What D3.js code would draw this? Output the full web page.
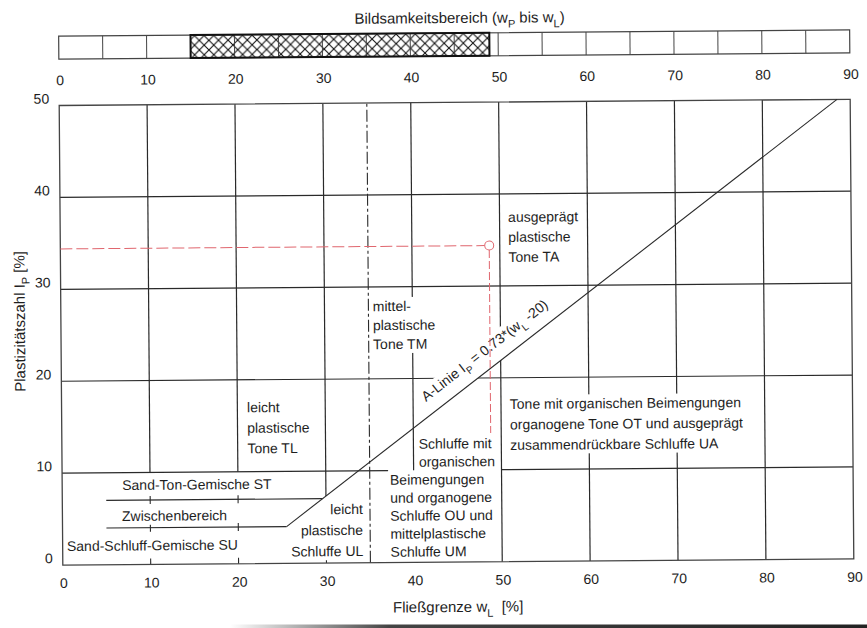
<!DOCTYPE html>
<html>
<head>
<meta charset="utf-8">
<title>Plastizitätsdiagramm</title>
<script src="https://cdn.jsdelivr.net/npm/d3@7/dist/d3.min.js"></script>
<style>
  body { margin: 0; background: #fff; }
  svg text { font-family: "Liberation Sans", Arial, Helvetica, sans-serif; fill: #1e1e1e; }
</style>
</head>
<body>
<svg id="chart" width="867" height="628"></svg>
<script>
// ---- values ----
const xTicks = [0, 10, 20, 30, 40, 50, 60, 70, 80, 90];
const yTicks = [0, 10, 20, 30, 40, 50];

// strip on top: 5 % cells, hatched = plasticity range w_P .. w_L
const stripEdges = [0, 5, 10, 15, 20, 25, 30, 35, 40, 45, 50, 55, 60, 65, 70, 75, 80, 85, 90];
const plasticRange = [15, 49];

// vertical grid lines (w_L) and the lowest I_P each one reaches
const vGridWL = [10, 20, 30, 40, 50, 60, 70, 80];
const vGridFromIP = [10, 10, 7.3, 10, 0, 0, 0, 0];
// horizontal grid lines (I_P), the 10 line is split
const hGridIP = [20, 30, 40];
const hGrid10 = [[0, 37.1], [50, 90]];

// zone boundaries
const stBoundary = [[5, 7], [29.6, 7]];
const suBoundary = [[5, 4], [25.5, 4]];
const aLine = [[25.5, 4], [88.5, 50]];
const tmBoundaryWL = 35;

// small ticks
const bottomTickWL = [10, 20, 30];
const crossTickWL = [10, 20];
const crossTickIP = [7, 4];

// example soil
const sampleWL = 48.8;
const sampleIP = 34.4;
const sampleDropIP = 14;

const zoneNames = [
  ["ausgeprägt", "plastische", "Tone TA"],
  ["mittel-", "plastische", "Tone TM"],
  ["leicht", "plastische", "Tone TL"],
  ["Tone mit organischen Beimengungen", "organogene Tone OT und ausgeprägt", "zusammendrückbare Schluffe UA"],
  ["Schluffe mit", "organischen"],
  ["Beimengungen", "und organogene", "Schluffe OU und", "mittelplastische", "Schluffe UM"],
  ["leicht", "plastische", "Schluffe UL"],
  ["Sand-Ton-Gemische ST"],
  ["Zwischenbereich"],
  ["Sand-Schluff-Gemische SU"]
];
// where each label sits: w_L, I_P of first line, anchor, line step (px)
const zoneLayout = [
  [50.97, 37.5, "start", 20],
  [35.5, 27.9, "start", 19],
  [21.1, 17.0, "start", 20.5],
  [51.0, 17.15, "start", 20.5],
  [40.6, 12.9, "start", 18],
  [37.3, 9.0, "start", 18],
  [34.2, 5.85, "end", 21],
  [6.83, 8.66, "start", 0],
  [6.78, 5.29, "start", 0],
  [0.49, 2.07, "start", 0]
];

const svg = d3.select("#chart");
const x = d3.scaleLinear().domain([0, 90]).range([61, 852]);
const y = d3.scaleLinear().domain([0, 50]).range([562, 102.4]);
const INK = "#2a2a2a";
const RED = "#e0666e";

const defs = svg.append("defs");
const hatch = defs.append("pattern")
    .attr("id", "hatch")
    .attr("patternUnits", "userSpaceOnUse")
    .attr("width", 9.6)
    .attr("height", 9.6);
hatch.append("rect").attr("width", 9.6).attr("height", 9.6).attr("fill", "#fff");
hatch.append("path")
    .attr("d", "M-1,-1L10.6,10.6M10.6,-1L-1,10.6")
    .attr("stroke", "#111")
    .attr("stroke-width", 1.1);

const fade = defs.append("linearGradient").attr("id", "fade").attr("x2", "100%");
fade.append("stop").attr("offset", "0%").attr("stop-color", "#fff");
fade.append("stop").attr("offset", "25%").attr("stop-color", "#444");
fade.append("stop").attr("offset", "100%").attr("stop-color", "#222");

// the scan is slightly crooked, so is the drawing
const root = svg.append("g").attr("transform", "rotate(-0.45, 455, 333)");

// text with sub-scripts: parts = [[string, isSub], ...]
function richText(t, parts, size) {
  parts.forEach(([s, sub], i) => {
    const prevSub = i > 0 && parts[i - 1][1];
    const ts = t.append("tspan").text(s);
    if (sub) ts.attr("dy", 5).style("font-size", Math.round(size * 0.72) + "px");
    else if (prevSub) ts.attr("dy", -5);
  });
}

// ---- top strip ----
const stripTop = 33, stripH = 23;
const strip = root.append("g");
strip.append("text")
    .attr("x", 462).attr("y", 23)
    .attr("text-anchor", "middle")
    .style("font-size", "15px")
    .call(t => richText(t, [["Bildsamkeitsbereich (w"], ["P", true], [" bis w"], ["L", true], [")"]], 15));

strip.append("rect")
    .attr("x", x(0)).attr("y", stripTop)
    .attr("width", x(90) - x(0)).attr("height", stripH)
    .attr("fill", "#fff");
strip.append("rect")
    .attr("x", x(plasticRange[0])).attr("y", stripTop)
    .attr("width", x(plasticRange[1]) - x(plasticRange[0])).attr("height", stripH)
    .attr("fill", "url(#hatch)");
strip.selectAll("line.cell")
    .data(stripEdges.slice(1, -1))
    .join("line")
    .attr("class", "cell")
    .attr("x1", d => x(d)).attr("x2", d => x(d))
    .attr("y1", stripTop).attr("y2", stripTop + stripH)
    .attr("stroke", "#444").attr("stroke-width", 1);
strip.append("rect")
    .attr("x", x(0)).attr("y", stripTop)
    .attr("width", x(90) - x(0)).attr("height", stripH)
    .attr("fill", "none").attr("stroke", "#444").attr("stroke-width", 1.2);
strip.append("rect")
    .attr("x", x(plasticRange[0])).attr("y", stripTop)
    .attr("width", x(plasticRange[1]) - x(plasticRange[0])).attr("height", stripH)
    .attr("fill", "none").attr("stroke", "#111").attr("stroke-width", 2);
strip.selectAll("text.tick")
    .data(xTicks)
    .join("text")
    .attr("class", "tick")
    .attr("x", d => x(d) + 1).attr("y", 82)
    .attr("text-anchor", "middle")
    .style("font-size", "14px")
    .text(d => d);

// ---- plot ----
const plot = root.append("g");
const line = d3.line().x(d => x(d[0])).y(d => y(d[1]));

plot.selectAll("line.vgrid")
    .data(vGridWL)
    .join("line")
    .attr("class", "vgrid")
    .attr("x1", d => x(d)).attr("x2", d => x(d))
    .attr("y1", (d, i) => y(vGridFromIP[i])).attr("y2", y(50))
    .attr("stroke", INK).attr("stroke-width", 1.2);
plot.selectAll("line.hgrid")
    .data(hGridIP)
    .join("line")
    .attr("class", "hgrid")
    .attr("x1", x(0)).attr("x2", x(90))
    .attr("y1", d => y(d)).attr("y2", d => y(d))
    .attr("stroke", INK).attr("stroke-width", 1.2);
plot.selectAll("line.h10")
    .data(hGrid10)
    .join("line")
    .attr("class", "h10")
    .attr("x1", d => x(d[0])).attr("x2", d => x(d[1]))
    .attr("y1", y(10)).attr("y2", y(10))
    .attr("stroke", INK).attr("stroke-width", 1.2);

[stBoundary, suBoundary].forEach(b => {
  plot.append("path").attr("d", line(b))
      .attr("fill", "none").attr("stroke", INK).attr("stroke-width", 1.2);
});

plot.selectAll("line.btick")
    .data(bottomTickWL)
    .join("line")
    .attr("class", "btick")
    .attr("x1", d => x(d)).attr("x2", d => x(d))
    .attr("y1", y(0)).attr("y2", y(0) - 6)
    .attr("stroke", INK).attr("stroke-width", 1.1);
crossTickIP.forEach(ip => {
  plot.selectAll(null)
      .data(crossTickWL)
      .join("line")
      .attr("x1", d => x(d)).attr("x2", d => x(d))
      .attr("y1", y(ip) - 4).attr("y2", y(ip) + 4)
      .attr("stroke", INK).attr("stroke-width", 1.1);
});

// TL / TM border (dash-dot)
plot.append("line")
    .attr("x1", x(tmBoundaryWL)).attr("x2", x(tmBoundaryWL))
    .attr("y1", y(0)).attr("y2", y(50))
    .attr("stroke", INK).attr("stroke-width", 1.1)
    .attr("stroke-dasharray", "12,3,3,3");

// frame
plot.append("rect")
    .attr("x", x(0)).attr("y", y(50))
    .attr("width", x(90) - x(0)).attr("height", y(0) - y(50))
    .attr("fill", "none").attr("stroke", "#444").attr("stroke-width", 1.3);

// zone labels on white
zoneNames.forEach((names, i) => {
  const [wl, ip, anchor, step] = zoneLayout[i];
  const g = plot.append("g");
  const bg = g.append("rect").attr("fill", "#fff");
  const t = g.append("text")
      .attr("text-anchor", anchor)
      .style("font-size", "14px");
  names.forEach((s, k) => {
    t.append("tspan")
        .attr("x", x(wl))
        .attr("y", y(ip) + k * step + 5)
        .text(s);
  });
  const b = t.node().getBBox();
  bg.attr("x", b.x - 2).attr("y", b.y - 1)
    .attr("width", b.width + 4).attr("height", b.height + 2);
});

// A-line label, parallel to the line
const slope = (aLine[1][1] - aLine[0][1]) / (aLine[1][0] - aLine[0][0]);
const ipOnA = wl => aLine[0][1] + (wl - aLine[0][0]) * slope;
const ang = Math.atan2(y(aLine[0][1]) - y(aLine[1][1]), x(aLine[1][0]) - x(aLine[0][0])) * 180 / Math.PI;
const labWL = 49.4;
const ag = plot.append("g")
    .attr("transform", `translate(${x(labWL)},${y(ipOnA(labWL))}) rotate(${-ang})`);
const abg = ag.append("rect").attr("fill", "#fff");
const at = ag.append("text")
    .attr("x", 0).attr("y", -13)
    .attr("text-anchor", "middle")
    .style("font-size", "14px")
    .call(t => richText(t, [["A-Linie I"], ["P", true], [" = 0.73*(w"], ["L", true], [" -20)"]], 14));
const ab = at.node().getBBox();
abg.attr("x", ab.x - 2).attr("y", ab.y - 1)
   .attr("width", ab.width + 4).attr("height", -ab.y + 1);

plot.append("path").attr("d", line(aLine))
    .attr("fill", "none").attr("stroke", INK).attr("stroke-width", 1.1);

// example point with red guides
plot.append("line")
    .attr("x1", x(0)).attr("x2", x(sampleWL) - 4.5)
    .attr("y1", y(sampleIP)).attr("y2", y(sampleIP))
    .attr("stroke", RED).attr("stroke-width", 1)
    .attr("stroke-dasharray", "12,4");
plot.append("line")
    .attr("x1", x(sampleWL)).attr("x2", x(sampleWL))
    .attr("y1", y(sampleIP) + 4.5).attr("y2", y(sampleDropIP))
    .attr("stroke", RED).attr("stroke-width", 1)
    .attr("stroke-dasharray", "8,3");
plot.append("circle")
    .attr("cx", x(sampleWL)).attr("cy", y(sampleIP)).attr("r", 4.5)
    .attr("fill", "#fff").attr("stroke", RED).attr("stroke-width", 1);

// axes labels
plot.selectAll("text.xt")
    .data(xTicks)
    .join("text")
    .attr("class", "xt")
    .attr("x", d => x(d) + 1).attr("y", y(0) + 23)
    .attr("text-anchor", "middle")
    .style("font-size", "14px")
    .text(d => d);
plot.selectAll("text.yt")
    .data(yTicks)
    .join("text")
    .attr("class", "yt")
    .attr("x", x(0) - 10).attr("y", d => y(d) - 2)
    .attr("text-anchor", "end")
    .style("font-size", "14px")
    .text(d => d);

plot.append("text")
    .attr("x", 456).attr("y", 612)
    .attr("text-anchor", "middle")
    .style("font-size", "15px")
    .call(t => richText(t, [["Fließgrenze w"], ["L", true], ["\u00a0 [%]"]], 15));
plot.append("text")
    .attr("transform", "translate(25,318) rotate(-90)")
    .attr("text-anchor", "middle")
    .style("font-size", "15px")
    .call(t => richText(t, [["Plastizitätszahl I"], ["P", true], [" [%]"]], 15));

// page edge from the scan
svg.append("rect")
    .attr("x", 230).attr("y", 624.5).attr("width", 637).attr("height", 3.5)
    .attr("fill", "url(#fade)");
</script>
</body>
</html>
